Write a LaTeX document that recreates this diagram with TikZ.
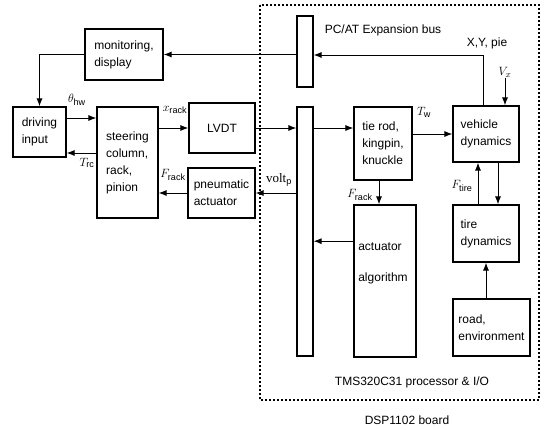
\documentclass[tikz,border=0pt]{standalone}
\usepackage{amsmath}
\usepackage{fontspec}
\setsansfont{Liberation Sans}
\setmainfont{Liberation Serif}
\usepackage{tikz}
\usetikzlibrary{arrows.meta, positioning, calc}

\begin{document}
\begin{tikzpicture}[
    x=1pt, y=-1pt,
    blockbox/.style={rectangle, draw=black, line width=1.1pt, fill=white,
                     align=left, inner sep=2pt,
                     font=\sffamily\fontsize{12}{17}\selectfont},
    busbar/.style={rectangle, draw=black, line width=1.1pt, fill=white,
                   minimum width=16pt, inner sep=0pt},
    boardbox/.style={draw=black, line width=1.4pt, dash pattern=on 2pt off 2pt},
    arrow/.style={-{Latex[length=8pt, width=6pt]}, line width=1pt},
    lbl/.style={font=\fontsize{13}{15}\selectfont, inner sep=1pt},
    txt/.style={font=\sffamily\fontsize{12}{14}\selectfont, inner sep=1pt}
]
\useasboundingbox (0,0) rectangle (544,429);
\draw[boardbox] (260,5) rectangle (539,400);
\node[busbar, minimum height=71pt] (busA) at (305,51.5) {};
\node[busbar, minimum height=249pt] (busB) at (305,231.5) {};
\node[txt] (pcat) at (383,30) {PC/AT Expansion bus};
\node[blockbox, minimum width=78pt, minimum height=51pt] (monitor) at (124,54.5) {monitoring,\\display};
\node[blockbox, minimum width=53pt, minimum height=50pt] (drive) at (39.5,132) {driving\\input};
\node[blockbox, minimum width=61pt, minimum height=111pt] (steer) at (127.5,162.5) {steering\\column,\\rack,\\pinion};
\node[blockbox, minimum width=66pt, minimum height=50pt] (lvdt) at (222,128) {LVDT};
\node[blockbox, minimum width=67pt, minimum height=50pt] (pneu) at (221.5,193) {pneumatic\\actuator};
\node[blockbox, minimum width=58pt, minimum height=73pt] (tierod) at (383,143.5) {tie rod,\\kingpin,\\knuckle};
\node[blockbox, minimum width=62pt, minimum height=152pt] (act) at (385,281) {};
\node[txt, align=left] (acttxt) at (383,263) {actuator\\[17pt]algorithm};
\node[blockbox, minimum width=66pt, minimum height=56pt] (vehdyn) at (486,134) {vehicle\\dynamics};
\node[blockbox, minimum width=66pt, minimum height=57pt] (tire) at (486,233.5) {tire\\dynamics};
\node[blockbox, minimum width=77pt, minimum height=57pt] (road) at (491.5,327.5) {road,\\environment};
\node[txt] (tms) at (412,382) {TMS320C31 processor \& I/O};
\node[txt] (dsp) at (407,420) {DSP1102 board};
\node[txt] (xypie) at (487,43) {X,Y, pie};
\node[lbl] (vx) at (505,72) {$V_{x}$};
\node[lbl] (thw) at (77,100) {$\theta_{\mathsf{hw}}$};
\node[lbl] (trc) at (87,163) {$T_{\mathsf{rc}}$};
\node[lbl] (xrack) at (175,110) {$x_{\mathsf{rack}}$};
\node[lbl] (frack) at (173,175) {$F_{\mathsf{rack}}$};
\node[lbl] (voltp) at (279,180) {volt$_{\mathsf{p}}$};
\node[lbl] (tw) at (424,112) {$T_{\mathsf{w}}$};
\node[lbl] (frack2) at (360,195) {$F_{\mathsf{rack}}$};
\node[lbl] (ftire) at (462,186) {$F_{\mathsf{tire}}$};
\coordinate (xyp) at (483,55);
\draw[arrow] (vehdyn.north -| xyp) -- (xyp) -- (busA.east |- xyp);
\draw[arrow] (busA.west |- monitor.east) -- (monitor.east);
\draw[arrow] (monitor.west) -| (drive.north);
\draw[arrow] ([yshift=14pt]drive.east) -- ([yshift=14pt]drive.east -| steer.west);
\draw[arrow] ([yshift=-21pt]drive.east -| steer.west) -- ([yshift=-21pt]drive.east);
\draw[arrow] (steer.east |- lvdt.west) -- (lvdt.west);
\draw[arrow] (lvdt.east) -- (lvdt.east -| busB.west);
\draw[arrow] (busB.east |- lvdt.east) -- (tierod.west |- lvdt.east);
\draw[arrow] (busB.west |- pneu.east) -- (pneu.east);
\draw[arrow] (pneu.west) -- (pneu.west -| steer.east);
\draw[arrow] (tierod.east |- vehdyn.west) -- (vehdyn.west);
\draw[arrow] (vx.south) -- (vx.south |- vehdyn.north);
\draw[arrow] ([xshift=-4pt]tierod.south) -- ([xshift=-4pt]tierod.south |- act.north);
\draw[arrow] (act.west |- acttxt.north) -- (busB.east |- acttxt.north);
\draw[arrow] ([xshift=12pt]vehdyn.south) -- ([xshift=12pt]vehdyn.south |- tire.north);
\draw[arrow] ([xshift=-8pt]tire.north) -- ([xshift=-8pt]tire.north |- vehdyn.south);
\draw[arrow] (tire.south |- road.north) -- (tire.south);
\end{tikzpicture}
\end{document}
